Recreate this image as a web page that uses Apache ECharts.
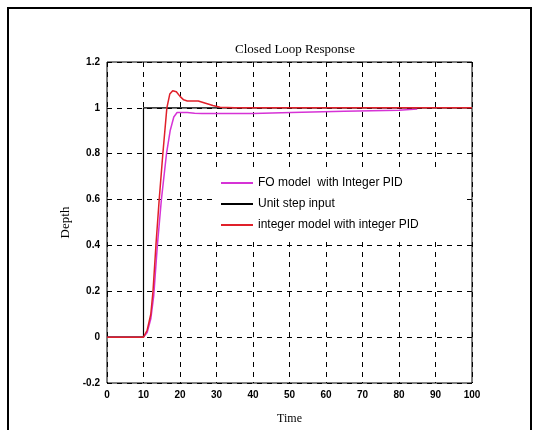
<!DOCTYPE html>
<html><head><meta charset="utf-8">
<script src="https://cdn.jsdelivr.net/npm/echarts@6/dist/echarts.min.js"></script>
<style>html,body{margin:0;padding:0;background:#fff}#c{width:536px;height:430px}</style>
</head><body><div id="c"></div>
<script>
const xTicks = [0,10,20,30,40,50,60,70,80,90,100];
const yTicks = [-0.2,0,0.2,0.4,0.6,0.8,1,1.2];
const seriesNames = ['FO model  with Integer PID','Unit step input','integer model with integer PID'];
const foTime  = [0,10,11,12,12.8,13.8,14.9,16.3,17.3,18.3,19.2,22,24,26,40,40.5,50.5,51,65,65.5,80,85];
const foValue = [0,0,0.02,0.08,0.18,0.4,0.6,0.8,0.9,0.96,0.98,0.98,0.977,0.975,0.975,0.98,0.98,0.985,0.985,0.99,0.99,0.995];
const stepTime  = [0,10,10,100];
const stepValue = [0,0,1,1];
const intTime  = [0,10,11,12,12.6,13.4,14.3,15.3,16.4,17.2,18,19,20,21,22,25,27,29,31,35,100];
const intValue = [0,0,0.03,0.1,0.2,0.4,0.6,0.8,1.0,1.06,1.075,1.07,1.05,1.035,1.03,1.03,1.02,1.01,1.003,1.0,1.0];

const zip = (a,b)=>a.map((v,i)=>[v,b[i]]);
const chart = echarts.init(document.getElementById('c'));
const tickFont = {fontFamily:'Liberation Sans', fontSize:10, fontWeight:'bold', color:'#000'};
chart.setOption({
  animation:false,
  backgroundColor:'#fff',
  title:{text:'Closed Loop Response', left:290, top:38, textAlign:'center',
    textStyle:{fontFamily:'Liberation Serif', fontSize:13, fontWeight:'normal', color:'#000'}},
  graphic:[{type:'rect', shape:{x:8,y:8,width:523,height:440}, style:{fill:'none', stroke:'#000', lineWidth:2}, z:-1}],
  grid:{left:107, top:62, width:365, height:332, show:true, borderColor:'#000', borderWidth:1, backgroundColor:'transparent'},
  legend:{orient:'vertical', left:215, top:171, itemWidth:32, itemHeight:2, itemGap:9,
    backgroundColor:'#fff', padding:[6,48,6,6], icon:'rect',
    textStyle:{fontFamily:'Liberation Sans', fontSize:12, color:'#000', lineHeight:12},
    data:seriesNames},
  xAxis:{type:'value', min:0, max:100, interval:10, name:'Time', nameLocation:'middle', nameGap:30,
    nameTextStyle:{fontFamily:'Liberation Serif', fontSize:12, color:'#000'},
    axisLine:{show:false}, axisTick:{show:true, inside:true, length:4, lineStyle:{color:'#000'}},
    axisLabel:Object.assign({margin:7}, tickFont),
    splitLine:{show:true, lineStyle:{color:'#000', type:[5,5], width:1}}},
  yAxis:{type:'value', min:-0.2, max:1.2, interval:0.2, name:'Depth', nameLocation:'middle', nameGap:34,
    nameTextStyle:{fontFamily:'Liberation Serif', fontSize:13, color:'#000'},
    axisLine:{show:false}, axisTick:{show:true, inside:true, length:4, lineStyle:{color:'#000'}},
    axisLabel:Object.assign({margin:7, formatter:v=>String(Math.round(v*10)/10)}, tickFont),
    splitLine:{show:true, lineStyle:{color:'#000', type:[5,5], width:1}}},
  series:[
    {name:seriesNames[0], type:'line', data:zip(foTime,foValue), showSymbol:false, symbol:'none',
      lineStyle:{color:'#d633d6', width:1.5}, itemStyle:{color:'#d633d6'}},
    {name:seriesNames[1], type:'line', data:zip(stepTime,stepValue), showSymbol:false, symbol:'none',
      lineStyle:{color:'#000', width:1.2}, itemStyle:{color:'#000'}},
    {name:seriesNames[2], type:'line', data:zip(intTime,intValue), showSymbol:false, symbol:'none',
      lineStyle:{color:'#e0202a', width:1.5}, itemStyle:{color:'#e0202a'}}
  ]
});
</script></body></html>
